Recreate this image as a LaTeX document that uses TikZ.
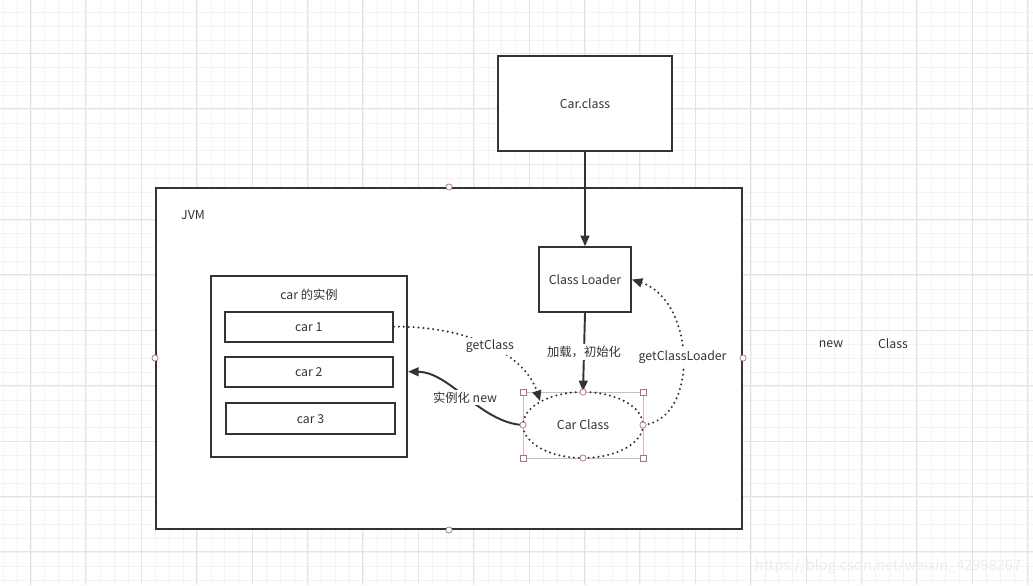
\documentclass[tikz,border=0pt]{standalone}
\usepackage{fontspec}
\setmainfont{Noto Sans CJK SC}
\usetikzlibrary{arrows.meta,shapes.geometric}
\definecolor{gridminor}{HTML}{F3F3F3}
\definecolor{gridmajor}{HTML}{E4E4E4}
\definecolor{ink}{HTML}{333333}
\definecolor{sel}{HTML}{B0707A}
\def\px{0.5669pt}
\tikzset{
  box/.style={draw=ink, line width=1.1pt, fill=white, text=ink, inner sep=0pt},
  conn/.style={draw=ink, line width=1.1pt, -{Triangle[length=6pt,width=5pt]}},
  dots/.style={conn, dash pattern=on 0pt off 2.8pt, line cap=round, line width=1.3pt},
  lbl/.style={fill=white, text=ink, inner sep=1pt},
  handle/.style={draw=sel, fill=white, line width=0.4pt, inner sep=0pt, minimum size=3.5pt},
}
\begin{document}
\begin{tikzpicture}[x=0.02cm, y=-0.02cm, font=\fontsize{7}{8.5}\selectfont]
    % canvas
    \useasboundingbox (0,0) rectangle (1033,585);
    \fill[white] (0,0) rectangle (1033,585);
    % grid
    \foreach \i in {0,...,74} {
      \draw[gridminor, line width=0.5pt] ({3.3+13.85*\i},0) -- ({3.3+13.85*\i},585);
    }
    \foreach \j in {0,...,41} {
      \draw[gridminor, line width=0.5pt] (0,{12.3+13.85*\j}) -- (1033,{12.3+13.85*\j});
    }
    \foreach \i in {0,...,18} {
      \draw[gridmajor, line width=0.5pt] ({30.5+55.4*\i},0) -- ({30.5+55.4*\i},585);
    }
    \foreach \j in {0,...,10} {
      \draw[gridmajor, line width=0.5pt] (0,{-2.1+55.4*\j}) -- (1033,{-2.1+55.4*\j});
    }
    % boxes
    \node[box, minimum width=175*\px, minimum height=95*\px] (cls) at (585,103.5) {Car.class};
    \node[box, minimum width=588*\px, minimum height=343*\px] (jvm) at (449,358.5) {};
    \node[text=ink, anchor=west] (jvmt) at (175,215) {JVM};
    \node[box, minimum width=92*\px, minimum height=65*\px] (ldr) at (585,279.5) {Class Loader};
    \node[box, minimum width=197*\px, minimum height=182*\px] (inst) at (309,366.7) {};
    \node[text=ink] (instt) at (309,295) {car 的实例};
    \node[box, minimum width=169*\px, minimum height=30*\px] (c1) at (308.8,326.7) {car 1};
    \node[box, minimum width=169*\px, minimum height=30*\px] (c2) at (308.8,371.7) {car 2};
    \node[box, minimum width=169*\px, minimum height=31*\px] (c3) at (310.5,418.7) {car 3};
    % selection frame
    \draw[sel!50, line width=0.4pt] (523,392) rectangle (643,458);
    \node[box, ellipse, draw=none, fill=none, minimum width=120*\px, minimum height=66*\px] (ccls) at (583,425) {Car Class};
    \draw[dots, -] (ccls.center) ellipse [x radius=60, y radius=33];
    % connectors
    \draw[conn] (cls.south) -- (ldr.north);
    \draw[conn] (ldr.south) -- node[lbl] {加载，初始化} (ccls.north);
    \draw[dots] (c1.east) .. controls (470,326) and (525,355) .. node[lbl] {getClass} (ccls.north west);
    \draw[conn] (ccls.west) .. controls (480,422) and (450,372) .. node[lbl] {实例化 new} (inst.east |- c2.east);
    \draw[dots] (ccls.east) .. controls (700,418) and (695,300) .. node[lbl] {getClassLoader} (ldr.east);
    % handles
    \foreach \p in {(523,392),(643,392),(523,458),(643,458)} {
      \node[handle] at \p {};
    }
    \foreach \p in {(583,392),(583,458),(523,425),(643,425),(449,187),(155,358),(743,358),(449,530)} {
      \node[handle, circle] at \p {};
    }
    % loose texts
    \node[text=ink] (newt) at (831,344) {new};
    \node[text=ink] (clst) at (893,344) {Class};
    \node[text=gray!15, font=\fontsize{8.3}{10}\selectfont] (mark) at (888,567) {https://blog.csdn.net/weixin\_42998267};
\end{tikzpicture}
\end{document}
